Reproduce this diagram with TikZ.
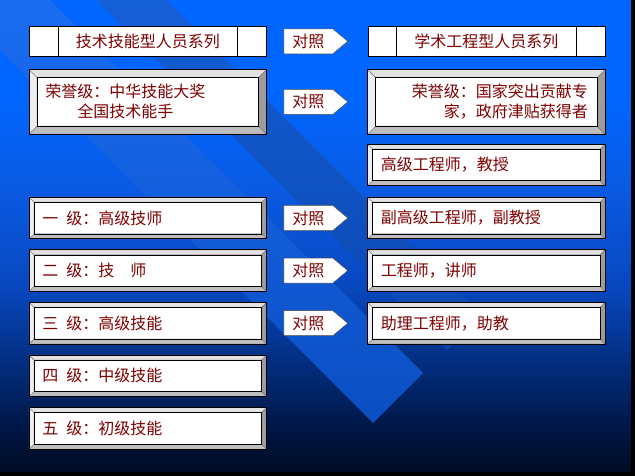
\documentclass[tikz,border=0pt]{standalone}
\usepackage{fontspec}
\newfontfamily\cjk{Noto Sans CJK SC}
\usetikzlibrary{positioning}
\usetikzlibrary{shapes.symbols}
\definecolor{ink}{RGB}{128,0,0}
\definecolor{bgA}{HTML}{0066FF}
\definecolor{bgB}{HTML}{0A5AE2}
\definecolor{bgC}{HTML}{0848C0}
\definecolor{bgD}{HTML}{022E80}
\definecolor{bgE}{HTML}{001645}
\definecolor{bgF}{HTML}{000A20}
\definecolor{bandtop}{HTML}{1C72FA}
\definecolor{bandbot}{HTML}{0B4EC2}
\definecolor{bevtop}{HTML}{E2E2E2}
\definecolor{bevleft}{HTML}{EEEEEE}
\definecolor{bevright}{HTML}{9C9C9C}
\definecolor{bevbottom}{HTML}{BEBEBE}
\pgfdeclareverticalshading{slide}{100bp}{color(0bp)=(bgF); color(25bp)=(bgF); color(30bp)=(bgE); color(37bp)=(bgD); color(45bp)=(bgC); color(55bp)=(bgB); color(65bp)=(bgA); color(100bp)=(bgA)}
\tikzset{
    box/.style = {draw=black,line width=0.6pt,fill=white,inner sep=0,minimum width=237pt,minimum height=41pt,text=ink,font=\cjk\fontsize{16}{20}\selectfont},
    headbox/.style = {box,minimum height=30pt},
    rowbox/.style = {box,text width=211pt,align=left},
    honorbox/.style = {box,minimum height=64pt},
    compare/.style = {shape=signal,signal to=east,signal pointer angle=80,fill=white,draw=black!70,line width=0.5pt,inner xsep=8.5pt,inner ysep=0,minimum height=25pt,text=ink,font=\cjk\fontsize{16}{20}\selectfont},
    face/.style = {draw=black!55,line width=0.4pt}
}
\begin{document}
\begin{tikzpicture}[x=1pt,y=-1pt]
        \newcommand*\colgap{101pt}
        \newcommand*\arrgap{17pt}
        \useasboundingbox (0,0) rectangle (635,476);
        % Slide background
        \shade[shading=slide] (0,0) rectangle (635,476);
        \begin{scope}
            \clip (0,0) rectangle (631,472);
            \shade[top color=bandtop,bottom color=bandbot] (-75,-25) -- (373,423) -- (423,373) -- (-25,-75) -- cycle;
            \shade[top color=bandtop!92!black,bottom color=bandbot!90!black] (-2,-98) -- (447,350) -- (482,315) -- (33,-133) -- cycle;
        \end{scope}
        \fill[black] (631,0) rectangle (635,476);
        \fill[black] (0,472) rectangle (635,476);
        % Series headers
        \node[headbox,anchor=north west] (hl) at (29,26) {技术技能型人员系列};
        \node[headbox,right=\colgap of hl] (hr) {学术工程型人员系列};
        % Honour level
        \node[honorbox,text width=205pt,align=left,below=13pt of hl] (honl) {荣誉级：中华技能大奖\\\hspace*{2em}全国技术能手};
        \node[honorbox,text width=203pt,align=right,right=\colgap of honl] (honr) {荣誉级：国家突出贡献专\\家，政府津贴获得者};
        % Grades
        \node[rowbox,below=10pt of honr] (r0) {高级工程师，教授};
        \node[rowbox,below=63pt of honl] (l1) {一\hspace{.5em}级：高级技师};
        \node[rowbox,below=11pt of l1] (l2) {二\hspace{.5em}级：技\hspace{1em}师};
        \node[rowbox,below=11pt of l2] (l3) {三\hspace{.5em}级：高级技能};
        \node[rowbox,below=11pt of l3] (l4) {四\hspace{.5em}级：中级技能};
        \node[rowbox,below=11pt of l4] (l5) {五\hspace{.5em}级：初级技能};
        \node[rowbox,right=\colgap of l1] (r1) {副高级工程师，副教授};
        \node[rowbox,right=\colgap of l2] (r2) {工程师，讲师};
        \node[rowbox,right=\colgap of l3] (r3) {助理工程师，助教};
        % Header dividers
        \foreach \n in {hl,hr}
            \draw[line width=0.6pt] ([xshift=29pt]\n.north west) -- ([xshift=29pt]\n.south west)
                ([xshift=-29pt]\n.north east) -- ([xshift=-29pt]\n.south east);
        % Bevels
        \foreach \n/\b in {honl/8,honr/8,r0/5,l1/5,l2/5,l3/5,l4/5,l5/5,r1/5,r2/5,r3/5} {
            \filldraw[face,fill=bevtop] (\n.north west) -- (\n.north east) -- ([shift={(-\b,\b)}]\n.north east) -- ([shift={(\b,\b)}]\n.north west) -- cycle;
            \filldraw[face,fill=bevbottom] (\n.south west) -- (\n.south east) -- ([shift={(-\b,-\b)}]\n.south east) -- ([shift={(\b,-\b)}]\n.south west) -- cycle;
            \filldraw[face,fill=bevleft] (\n.north west) -- ([shift={(\b,\b)}]\n.north west) -- ([shift={(\b,-\b)}]\n.south west) -- (\n.south west) -- cycle;
            \filldraw[face,fill=bevright] (\n.north east) -- ([shift={(-\b,\b)}]\n.north east) -- ([shift={(-\b,-\b)}]\n.south east) -- (\n.south east) -- cycle;
            \draw[line width=0.6pt] ([shift={(\b,\b)}]\n.north west) rectangle ([shift={(-\b,-\b)}]\n.south east);
            \draw[line width=0.8pt] (\n.north west) rectangle (\n.south east);
        }
        % Comparison arrows
        \foreach \n in {hl,honl,l1,l2,l3}
            \node[compare,right=\arrgap of \n] (c\n) {对照};
    \end{tikzpicture}
\end{document}
